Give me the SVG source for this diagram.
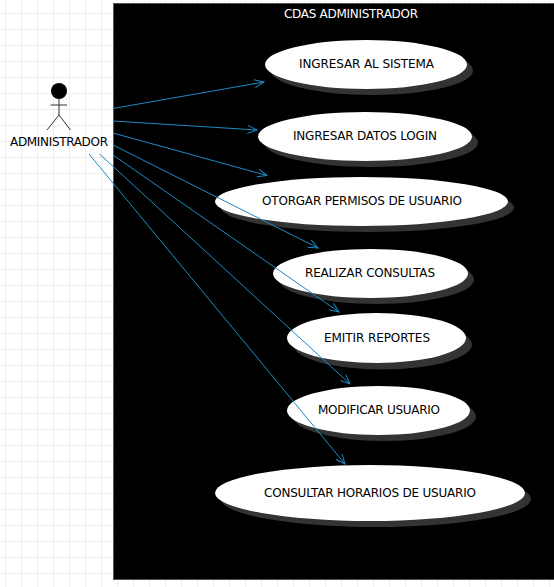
<svg xmlns="http://www.w3.org/2000/svg" width="554" height="587" viewBox="0 0 554 587">
<style>
.case{fill:#fff}
.shadow{fill:#333}
.conn{stroke:#1b8bc4;stroke-width:1;fill:none;marker-end:url(#open)}
text{font-family:"DejaVu Sans","Liberation Sans",sans-serif;font-size:12px;fill:#000;dominant-baseline:central}
.actor-line{stroke:#333;stroke-width:1;fill:none}
</style>
<defs>
<marker id="open" markerUnits="userSpaceOnUse" markerWidth="12" markerHeight="10" refX="10.500" refY="5" orient="auto">
<path d="M1 1L10.500 5L1 9" fill="none" stroke="#1b8bc4" stroke-width="1"/>
</marker>
<pattern id="g" width="16" height="16" patternUnits="userSpaceOnUse" x="5" y="13">
<path d="M0.5 0V16M0 0.5H16" stroke="#eeeeee" stroke-width="1" fill="none"/>
</pattern>
</defs>
<rect width="554" height="587" fill="#fff"/>
<rect width="554" height="587" fill="url(#g)"/>
<g id="system">
<rect x="113.500" y="3.500" width="441" height="576" fill="#000" stroke="#555" stroke-width="1"/>
<text x="351" y="13.500" text-anchor="middle" textLength="134" style="fill:#fff">CDAS ADMINISTRADOR</text>
</g>
<g id="actor">
<circle cx="59" cy="91" r="8" fill="#000"/>
<path class="actor-line" d="M59 99V115M50.500 105H67M59 115L47 130M59 115L70.500 130"/>
<text x="59" y="142" text-anchor="middle" textLength="98">ADMINISTRADOR</text>
</g>
<g id="uc1"><ellipse class="shadow" cx="372" cy="70.500" rx="101" ry="24.500"/><ellipse class="case" cx="366" cy="64.500" rx="101" ry="24.500"/><text x="366.500" y="63.500" text-anchor="middle" textLength="135">INGRESAR AL SISTEMA</text></g>
<g id="uc2"><ellipse class="shadow" cx="371" cy="142.500" rx="107" ry="24.500"/><ellipse class="case" cx="365" cy="136.500" rx="107" ry="24.500"/><text x="365" y="135.500" text-anchor="middle" textLength="144">INGRESAR DATOS LOGIN</text></g>
<g id="uc3"><ellipse class="shadow" cx="367.500" cy="207.500" rx="146.500" ry="24.500"/><ellipse class="case" cx="361.500" cy="201.500" rx="146.500" ry="24.500"/><text x="362" y="200.500" text-anchor="middle" textLength="200">OTORGAR PERMISOS DE USUARIO</text></g>
<g id="uc4"><ellipse class="shadow" cx="376.500" cy="279.500" rx="97.500" ry="24.500"/><ellipse class="case" cx="370.500" cy="273.500" rx="97.500" ry="24.500"/><text x="370" y="272.500" text-anchor="middle" textLength="130">REALIZAR CONSULTAS</text></g>
<g id="uc5"><ellipse class="shadow" cx="382.500" cy="344.500" rx="89.500" ry="25"/><ellipse class="case" cx="376.500" cy="338" rx="89.500" ry="25"/><text x="377" y="337.500" text-anchor="middle" textLength="106">EMITIR REPORTES</text></g>
<g id="uc6"><ellipse class="shadow" cx="384.500" cy="416.500" rx="91.500" ry="24.500"/><ellipse class="case" cx="378.500" cy="410.500" rx="91.500" ry="24.500"/><text x="379" y="409.500" text-anchor="middle" textLength="122">MODIFICAR USUARIO</text></g>
<g id="uc7"><ellipse class="shadow" cx="376" cy="499" rx="155" ry="28"/><ellipse class="case" cx="370" cy="493" rx="155" ry="28"/><text x="370" y="492.500" text-anchor="middle" textLength="212">CONSULTAR HORARIOS DE USUARIO</text></g>
<g id="connectors">
<line class="conn" x1="113" y1="108.500" x2="264" y2="82"/>
<line class="conn" x1="113" y1="121" x2="257" y2="130"/>
<line class="conn" x1="113" y1="133" x2="267" y2="175.500"/>
<line class="conn" x1="113" y1="145" x2="318" y2="248"/>
<line class="conn" x1="113" y1="155" x2="339" y2="312"/>
<line class="conn" x1="99.500" y1="154" x2="350" y2="384"/>
<line class="conn" x1="89" y1="154" x2="345" y2="464"/>
</g>
</svg>
